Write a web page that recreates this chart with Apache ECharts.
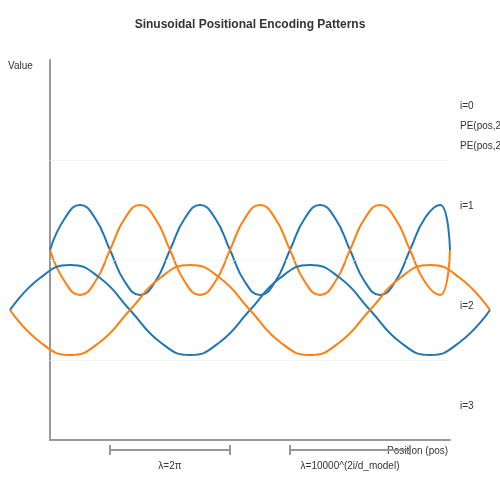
<!DOCTYPE html><html><head><meta charset="utf-8"><script src="https://cdn.jsdelivr.net/npm/echarts@6/dist/echarts.min.js"></script>
<style>html,body{margin:0;padding:0}#c{width:500px;height:500px}</style></head><body><div id="c"></div><script>
// pair 1 (fast frequency), positions 0..400
const pos1 = [0,15,30,45,60,75,90,105,120,135,150,165,180,195,210,225,240,255,270,285,300,315,330,345,360,375,390,400];
const sin1 = [190,222,235,222,190,158,145,158,190,222,235,222,190,158,145,158,190,222,235,222,190,158,145,158,190,222,235,190];
const cos1 = [190,158,145,158,190,222,235,222,190,158,145,158,190,222,235,222,190,158,145,158,190,222,235,222,190,158,145,190];
// pair 2 (slow frequency), positions 0..480
const pos2 = [0,30,60,90,120,150,180,210,240,270,300,330,360,390,420,450,480];
const sin2 = [130,162,175,162,130,98,85,98,130,162,175,162,130,98,85,98,130];
const cos2 = [130,98,85,98,130,162,175,162,130,98,85,98,130,162,175,162,130];
const rowLabels = ['i=0','i=1','i=2','i=3'];
const legendLabels = ['PE(pos,2i)','PE(pos,2i+1)'];
const gridVals = [80,180,280];
const BLUE='#1f77b4', ORANGE='#ff7f0e';
const zip=(a,b)=>a.map((v,i)=>[v,b[i]]);
const ch = echarts.init(document.getElementById('c'));
const txt=(x,y,t,extra)=>Object.assign({type:'text',x,y,style:{text:t,fill:'#333',font:'10px Arial',textVerticalAlign:'middle'}},extra||{});
const g=[];
rowLabels.forEach((t,i)=>g.push(txt(460,106+i*100,t)));
legendLabels.forEach((t,i)=>g.push(txt(460,126+i*20,t)));
g.push(txt(8,66,'Value'));
g.push(txt(387,451,'Position (pos)'));
g.push({type:'text',x:250,y:25,style:{text:'Sinusoidal Positional Encoding Patterns',fill:'#333',font:'bold 12px Arial',textAlign:'center',textVerticalAlign:'middle'}});
const ls={stroke:'#999',lineWidth:2};
[[110,230],[290,410]].forEach(([a,b])=>{
  g.push({type:'line',shape:{x1:a,y1:450,x2:b,y2:450},style:ls});
  g.push({type:'line',shape:{x1:a,y1:445,x2:a,y2:455},style:ls});
  g.push({type:'line',shape:{x1:b,y1:445,x2:b,y2:455},style:ls});
});
g.push({type:'text',x:170,y:466,style:{text:'λ=2π',fill:'#333',font:'10px Arial',textAlign:'center',textVerticalAlign:'middle'}});
g.push({type:'text',x:350,y:466,style:{text:'λ=10000^(2i/d_model)',fill:'#333',font:'10px Arial',textAlign:'center',textVerticalAlign:'middle'}});
const line=(d,c,xi,extra)=>Object.assign({type:'line',data:d,xAxisIndex:xi,yAxisIndex:xi,smooth:true,symbol:'none',lineStyle:{color:c,width:2},itemStyle:{color:c},z:3},extra||{});
ch.setOption({
  animation:false,
  grid:[{left:50,top:60,width:400,bottom:60},{left:10,top:60,width:480,bottom:60}],
  xAxis:[{type:'value',min:0,max:400,axisLine:{lineStyle:{color:'#999',width:2}},axisTick:{show:false},axisLabel:{show:false},splitLine:{show:false}},
         {type:'value',gridIndex:1,min:0,max:480,show:false}],
  yAxis:[{type:'value',min:0,max:380,axisLine:{show:true,lineStyle:{color:'#999',width:2}},axisTick:{show:false},axisLabel:{show:false},splitLine:{show:false}},
         {type:'value',gridIndex:1,min:0,max:380,show:false}],
  series:[
    line(zip(pos1,sin1),BLUE,0,{markLine:{silent:true,symbol:'none',label:{show:false},lineStyle:{color:'#eee',type:'dotted',width:1},data:gridVals.map(v=>({yAxis:v}))}}),
    line(zip(pos1,cos1),ORANGE,0),
    line(zip(pos2,sin2),BLUE,1),
    line(zip(pos2,cos2),ORANGE,1)
  ],
  graphic:g
});
</script></body></html>
